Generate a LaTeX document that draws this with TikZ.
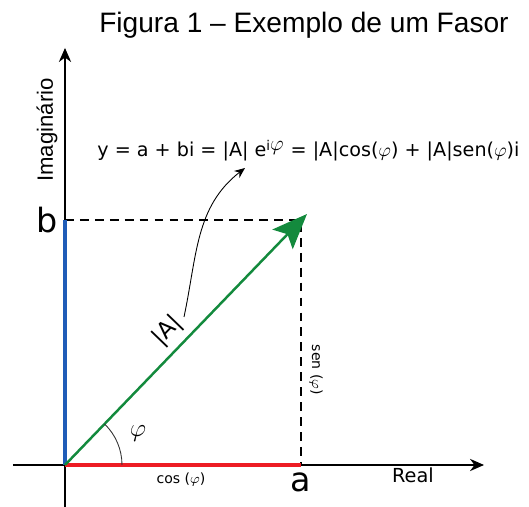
\documentclass[tikz,border=0pt]{standalone}
\usepackage{fontspec}
\setmainfont{DejaVu Sans}
\newfontfamily\arialfont{Liberation Sans}
\usepackage{tikz}
\usetikzlibrary{arrows.meta,calc,angles,quotes}
\definecolor{phasorgreen}{HTML}{138A3D}
\definecolor{realred}{HTML}{ED1C24}
\definecolor{imagblue}{HTML}{1F5CB8}

\begin{document}
\begin{tikzpicture}[x=0.02cm,y=0.02cm,
    axis/.style={line width=0.6pt,-{Stealth[length=8pt,width=7pt]}},
    guide/.style={line width=0.8pt,dash pattern=on 5pt off 3.5pt}]
    \useasboundingbox (0,0) rectangle (529,507);
    \coordinate (O) at (65,42);
    \coordinate (xstart) at (13,42);
    \coordinate (xend) at (484,42);
    \coordinate (ystart) at (65,0);
    \coordinate (yend) at (65,459);
    \coordinate (P) at (301,287);
    \coordinate (tip) at (307,293);
    \coordinate (ap) at (301,42);
    \coordinate (bp) at (65,287);
    \draw[axis] (xstart) -- (xend);
    \draw[axis] (ystart) -- (yend);
    \draw[guide] (bp) -- (P) -- (ap);
    \draw[line width=2pt,realred] (O) -- (ap);
    \draw[line width=2pt,imagblue] (O) -- (bp);
    \draw[line width=1.4pt,phasorgreen,-{Stealth[length=20pt,width=16pt,inset=4pt]}] (O) -- (tip);
    \pic[draw,black!80,line width=0.5pt,angle radius=1.14cm] {angle=ap--O--tip};
    \node[anchor=base,font=\arialfont\fontsize{16}{16}\selectfont] (title) at (304,474) {Figura 1 \textendash\ Exemplo de um Fasor};
    \node[anchor=base,rotate=90,font=\arialfont\fontsize{12.6}{12.6}\selectfont] (imag) at (53,377) {Imaginário};
    \node[anchor=base west,font=\fontsize{10.9}{10.9}\selectfont,inner sep=0pt] (formula) at (97,350) {y = a + bi = |A| e\textsuperscript{i\large$\varphi$} = |A|cos($\varphi$) + |A|sen($\varphi$)i};
    \node[anchor=east,font=\fontsize{19}{19}\selectfont,inner sep=0pt] (blabel) at (58,287) {b};
    \node[font=\fontsize{19}{19}\selectfont,inner sep=0pt] (alabel) at (301,25) {a};
    \node[font=\fontsize{11}{11}\selectfont,inner sep=0pt] (real) at (413,32) {Real};
    \node[font=\fontsize{8}{8}\selectfont,inner sep=0pt] (cos) at (181,27) {cos ($\varphi$)};
    \node[rotate=-90,font=\fontsize{8}{8}\selectfont,inner sep=0pt] (sen) at (316,137) {sen ($\varphi$)};
    \node[rotate=46,font=\fontsize{13}{13}\selectfont,inner sep=0pt] (mag) at (168,176) {|A|};
    \node[font=\fontsize{14}{14}\selectfont,inner sep=0pt] (phi) at (138,73) {$\varphi$};
    \draw[line width=0.5pt,-{Stealth[length=6pt,width=5pt]}] (184,190) to[out=78,in=218] (245,339);
\end{tikzpicture}
\end{document}
